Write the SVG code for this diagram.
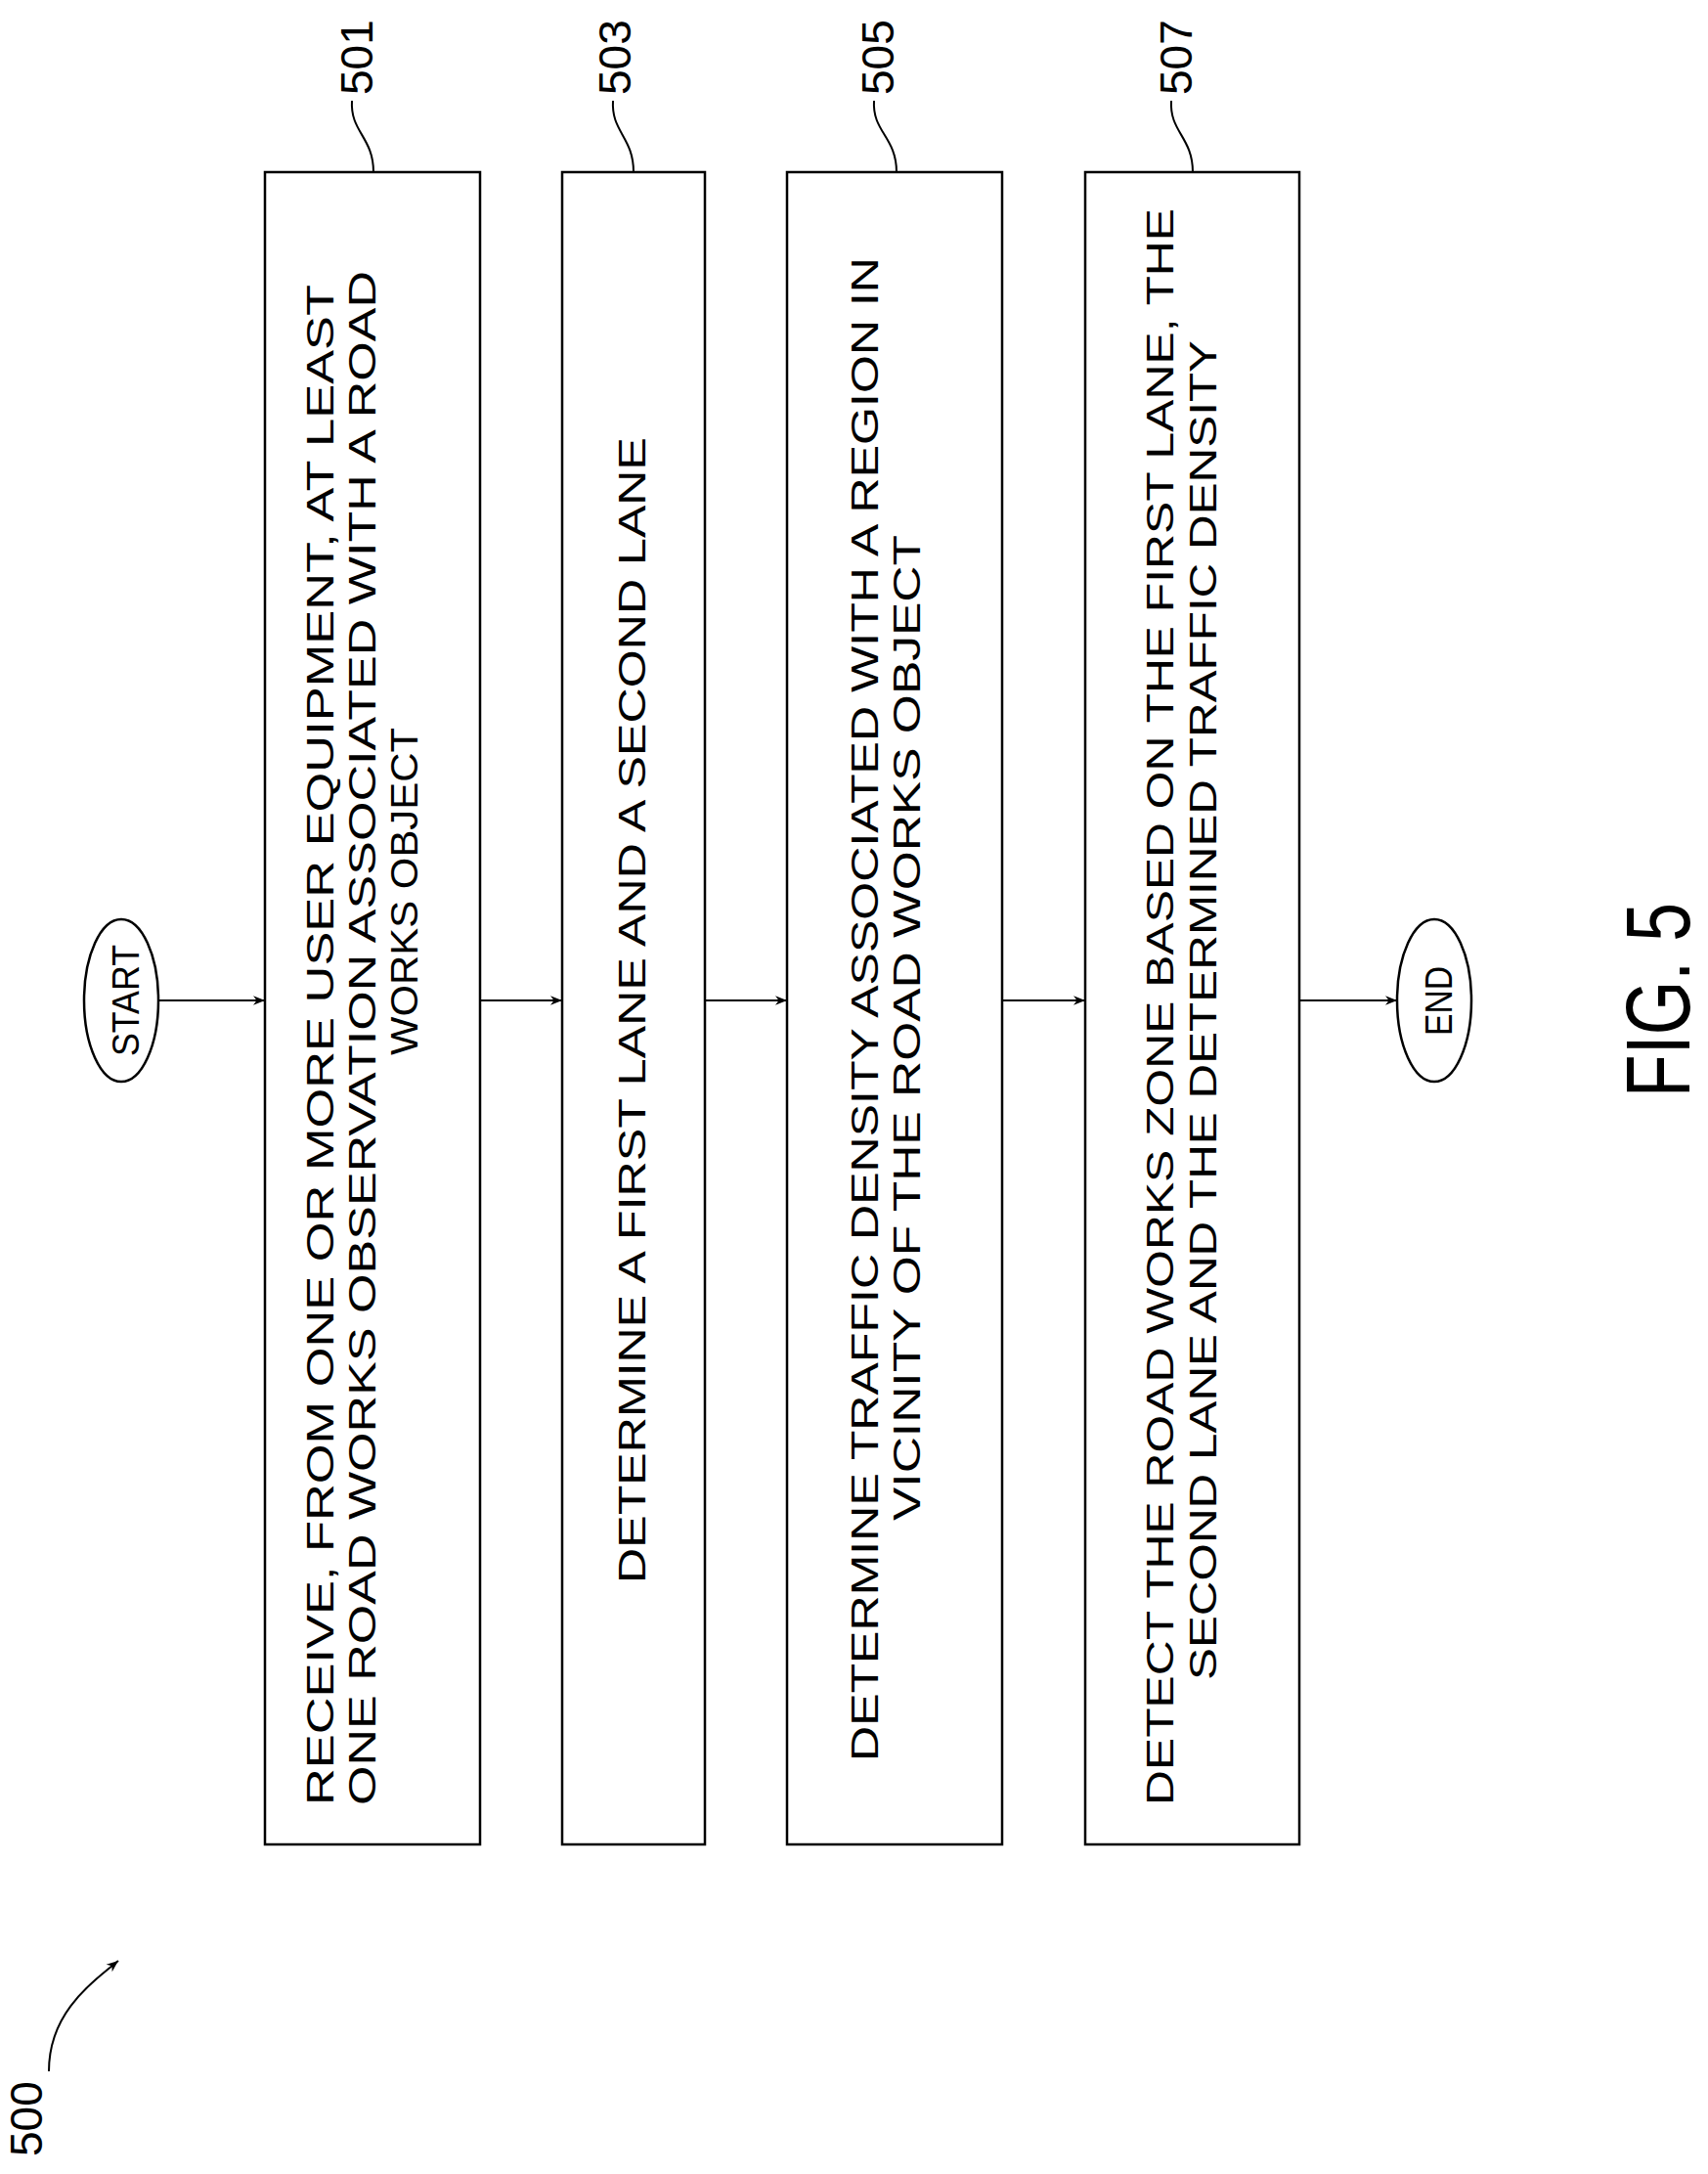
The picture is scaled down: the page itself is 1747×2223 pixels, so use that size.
<svg xmlns="http://www.w3.org/2000/svg" width="1747" height="2223" viewBox="0 0 1747 2223">
<style>
.b{fill:#fff;stroke:#000;stroke-width:2.5}
.t{font-family:"Liberation Sans",Arial,sans-serif;font-size:38px;fill:#000}
.n{font-family:"Liberation Sans",Arial,sans-serif;font-size:46px;fill:#000}
.c{fill:none;stroke:#000;stroke-width:2}
</style>
<defs><marker id="a" viewBox="0 0 10 10" refX="10" refY="5" markerWidth="12" markerHeight="12" markerUnits="userSpaceOnUse" orient="auto"><path d="M0,1 L10,5 L0,9 L3,5 Z" fill="#000"/></marker></defs>
<rect width="1747" height="2223" fill="#fff"/>
<g id="start"><ellipse class="b" cx="124" cy="1023" rx="38" ry="83"/><text class="t" transform="translate(142,1080) rotate(-90)" textLength="114" lengthAdjust="spacingAndGlyphs">START</text></g>
<g id="n501"><rect class="b" x="271" y="176" width="220" height="1710"/>
<text class="t" transform="translate(341,1846) rotate(-90)" textLength="1555" lengthAdjust="spacingAndGlyphs">RECEIVE, FROM ONE OR MORE USER EQUIPMENT, AT LEAST</text>
<text class="t" transform="translate(384,1846) rotate(-90)" textLength="1569" lengthAdjust="spacingAndGlyphs">ONE ROAD WORKS OBSERVATION ASSOCIATED WITH A ROAD</text>
<text class="t" transform="translate(427,1079) rotate(-90)" textLength="335" lengthAdjust="spacingAndGlyphs">WORKS OBJECT</text></g>
<g id="n503"><rect class="b" x="575" y="176" width="146" height="1710"/>
<text class="t" transform="translate(660,1619) rotate(-90)" textLength="1172" lengthAdjust="spacingAndGlyphs">DETERMINE A FIRST LANE AND A SECOND LANE</text></g>
<g id="n505"><rect class="b" x="805" y="176" width="220" height="1710"/>
<text class="t" transform="translate(898,1801) rotate(-90)" textLength="1538" lengthAdjust="spacingAndGlyphs">DETERMINE TRAFFIC DENSITY ASSOCIATED WITH A REGION IN</text>
<text class="t" transform="translate(941,1555) rotate(-90)" textLength="1008" lengthAdjust="spacingAndGlyphs">VICINITY OF THE ROAD WORKS OBJECT</text></g>
<g id="n507"><rect class="b" x="1110" y="176" width="219" height="1710"/>
<text class="t" transform="translate(1200,1846) rotate(-90)" textLength="1633" lengthAdjust="spacingAndGlyphs">DETECT THE ROAD WORKS ZONE BASED ON THE FIRST LANE, THE</text>
<text class="t" transform="translate(1244,1718) rotate(-90)" textLength="1370" lengthAdjust="spacingAndGlyphs">SECOND LANE AND THE DETERMINED TRAFFIC DENSITY</text></g>
<g id="end"><ellipse class="b" cx="1467" cy="1023" rx="38" ry="83"/><text class="t" transform="translate(1485,1059) rotate(-90)" textLength="71" lengthAdjust="spacingAndGlyphs">END</text></g>
<g id="connectors">
<line class="c" x1="162" y1="1023" x2="271" y2="1023" marker-end="url(#a)"/>
<line class="c" x1="491" y1="1023" x2="575" y2="1023" marker-end="url(#a)"/>
<line class="c" x1="721" y1="1023" x2="805" y2="1023" marker-end="url(#a)"/>
<line class="c" x1="1025" y1="1023" x2="1110" y2="1023" marker-end="url(#a)"/>
<line class="c" x1="1329" y1="1023" x2="1429" y2="1023" marker-end="url(#a)"/>
<path class="c" d="M360,103 C358,135 382,140 382,176"/>
<path class="c" d="M627,103 C625,135 648,140 648,176"/>
<path class="c" d="M894,103 C892,135 917,140 917,176"/>
<path class="c" d="M1198,103 C1196,135 1220,140 1220,176"/>
<path class="c" d="M50,2118 C50,2060 90,2030 121,2005" marker-end="url(#a)"/>
</g>
<g id="labels">
<text class="n" transform="translate(381,97) rotate(-90)">501</text>
<text class="n" transform="translate(645,97) rotate(-90)">503</text>
<text class="n" transform="translate(914,97) rotate(-90)">505</text>
<text class="n" transform="translate(1219,97) rotate(-90)">507</text>
<text class="n" transform="translate(43,2205) rotate(-90)">500</text>
<text font-family="Liberation Sans,Arial,sans-serif" font-size="92" transform="translate(1728,1122) rotate(-90)" textLength="199" lengthAdjust="spacingAndGlyphs">FIG. 5</text>
</g>
</svg>
